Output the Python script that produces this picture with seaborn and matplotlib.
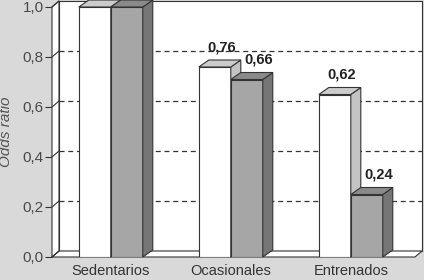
import numpy as np
import pandas as pd
import seaborn as sns
import matplotlib.pyplot as plt
from matplotlib.patches import Polygon

# datos
grupos = ['Sedentarios', 'Ocasionales', 'Entrenados']
serie_blanca = [1.00, 0.76, 0.65]
serie_gris = [1.00, 0.71, 0.25]
etiquetas_blanca = ['', '0,76', '0,62']
etiquetas_gris = ['', '0,66', '0,24']
yticks = [0, 0.2, 0.4, 0.6, 0.8, 1.0]
ytick_labels = ['0,0', '0,2', '0,4', '0,6', '0,8', '1,0']

df = pd.DataFrame({'grupo': grupos * 2,
                   'odds': serie_blanca + serie_gris,
                   'serie': ['blanca'] * 3 + ['gris'] * 3})

sns.set_style('white')
plt.rcParams['font.family'] = ['Liberation Sans', 'DejaVu Sans']

linea = '#333333'
fig = plt.figure(figsize=(4.24, 2.80), dpi=100, facecolor='#d9d9d9')
ax = fig.add_axes([52/424, 23/280, 363/424, 250/280])
ax.set_facecolor('none')

sns.barplot(data=df, x='grupo', y='odds', hue='serie',
            palette=['white', '#a6a6a6'], width=0.533, saturation=1,
            errorbar=None, legend=False, edgecolor=linea, linewidth=0.8, ax=ax)

x0, x1 = -0.49, 2.535
ax.set_xlim(x0, x1)
ax.set_ylim(0, 1)
for s in ax.spines.values():
    s.set_visible(False)

# pixeles -> datos
sx = (x1 - x0) / 363
sy = 1 / 250
wdx, wdy = 7 * sx, 6 * sy      # profundidad de las paredes
bdx, bdy = 10 * sx, 7 * sy     # profundidad de las barras

kw = dict(clip_on=False, edgecolor=linea, linewidth=0.8)
# pared del fondo, suelo y pared izquierda
ax.add_patch(Polygon([(x0 + wdx, wdy), (x1 + wdx, wdy), (x1 + wdx, 1 + wdy),
                      (x0 + wdx, 1 + wdy)], facecolor='white', zorder=0.5, **kw))
ax.add_patch(Polygon([(x0, 0), (x1, 0), (x1 + wdx, wdy), (x0 + wdx, wdy)],
                     facecolor='white', zorder=0.6, **kw))
ax.add_patch(Polygon([(x0, 0), (x0 + wdx, wdy), (x0 + wdx, 1 + wdy), (x0, 1)],
                     facecolor='white', zorder=0.6, **kw))

for y in yticks:
    ax.plot([x0, x0 + wdx], [y, y + wdy], color=linea, lw=0.8, clip_on=False, zorder=0.7)
    if 0 < y < 1:
        ax.plot([x0 + wdx, x1 + wdx], [y + wdy, y + wdy], color=linea, lw=0.9,
                ls=(0, (4, 3)), clip_on=False, zorder=0.7)

colores = [('#c4c4c4', '#cccccc'), ('#767676', '#8a8a8a')]
etiquetas = [etiquetas_blanca, etiquetas_gris]
desplaz = [0.7, 1.2]
for i, cont in enumerate(ax.containers):
    lado, tapa = colores[i]
    for bar, lab in zip(cont, etiquetas[i]):
        bar.set_zorder(2 + i)
        bx, w, h = bar.get_x(), bar.get_width(), bar.get_height()
        ax.add_patch(Polygon([(bx + w, 0), (bx + w, h), (bx + w + bdx, h + bdy),
                              (bx + w + bdx, bdy)], facecolor=lado, zorder=2.1 + i, **kw))
        ax.add_patch(Polygon([(bx, h), (bx + w, h), (bx + w + bdx, h + bdy),
                              (bx + bdx, h + bdy)], facecolor=tapa, zorder=2.1 + i, **kw))
        if lab:
            ax.annotate(lab, (bx + w / 2 + bdx * desplaz[i], h + bdy), xytext=(0, 4),
                        textcoords='offset points', ha='center', va='bottom',
                        fontsize=10.5, fontweight='bold', color='#222222', zorder=5)

ax.set_yticks(yticks, ytick_labels)
ax.tick_params(axis='y', left=True, length=5, width=0.8, color=linea,
               labelsize=11, labelcolor='#4a4a4a', pad=1)
ax.tick_params(axis='x', bottom=False, length=0, labelsize=10.5,
               labelcolor='#333333', pad=5)
ax.set_xlabel('')
ax.set_ylabel('Odds ratio', fontstyle='italic', fontsize=11, color='#555555')
ax.yaxis.set_label_coords(-0.107, 0.5)

fig.savefig('out.png', dpi=100, facecolor=fig.get_facecolor())
